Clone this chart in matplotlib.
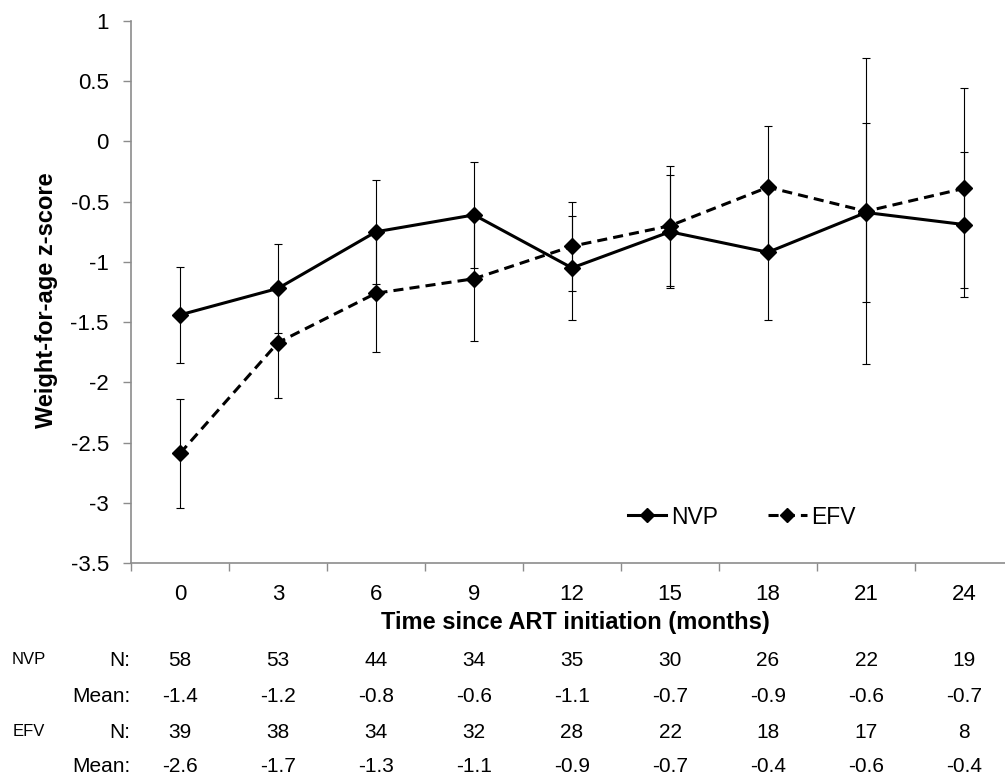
import matplotlib
matplotlib.use("Agg")
import matplotlib.pyplot as plt
import matplotlib.transforms as mtransforms
from matplotlib.lines import Line2D

plt.rcParams['font.family'] = ['Liberation Sans', 'DejaVu Sans']

# data
months = [0, 3, 6, 9, 12, 15, 18, 21, 24]
nvp_mean = [-1.44, -1.22, -0.75, -0.61, -1.05, -0.75, -0.92, -0.59, -0.69]
nvp_err = [0.40, 0.37, 0.43, 0.44, 0.43, 0.47, 0.56, 0.74, 0.60]
efv_mean = [-2.59, -1.67, -1.26, -1.14, -0.87, -0.70, -0.38, -0.58, -0.39]
efv_err = [0.45, 0.46, 0.49, 0.52, 0.37, 0.50, 0.51, 1.27, 0.83]

nvp_n = ["58", "53", "44", "34", "35", "30", "26", "22", "19"]
nvp_mean_lbl = ["-1.4", "-1.2", "-0.8", "-0.6", "-1.1", "-0.7", "-0.9", "-0.6", "-0.7"]
efv_n = ["39", "38", "34", "32", "28", "22", "18", "17", "8"]
efv_mean_lbl = ["-2.6", "-1.7", "-1.3", "-1.1", "-0.9", "-0.7", "-0.4", "-0.6", "-0.4"]

W, H = 1005, 782
fig = plt.figure(figsize=(W / 100, H / 100), dpi=100)
ax = fig.add_axes([131 / W, 1 - 563 / H, (W - 131) / W, (563 - 21) / H])

grey = "#8c8c8c"

# error bars first, then lines on top
ax.errorbar(months, nvp_mean, yerr=nvp_err, fmt="none", ecolor="black",
            elinewidth=0.8, capsize=2.6, capthick=0.8, zorder=2)
ax.errorbar(months, efv_mean, yerr=efv_err, fmt="none", ecolor="black",
            elinewidth=0.8, capsize=2.6, capthick=0.8, zorder=2)
ax.plot(months, nvp_mean, color="black", lw=2.2, marker="D", ms=8, zorder=3)
ax.plot(months, efv_mean, color="black", lw=2.2, marker="D", ms=8,
        dashes=(3.3, 2.0), zorder=3)

ax.set_xlim(-1.5, -1.5 + (W - 131) / 98 * 3)
ax.set_ylim(-3.5, 1)
ax.set_yticks([1, 0.5, 0, -0.5, -1, -1.5, -2, -2.5, -3, -3.5])
ax.set_yticklabels(["1", "0.5", "0", "-0.5", "-1", "-1.5", "-2", "-2.5", "-3", "-3.5"])
ax.set_xticks(months)
ax.set_xticklabels([str(m) for m in months])
ax.set_xticks([-1.5 + 3 * i for i in range(9)], minor=True)
ax.tick_params(axis="x", which="major", length=0, labelsize=16, pad=15)
ax.tick_params(axis="x", which="minor", length=6, width=1, color=grey, direction="out")
ax.tick_params(axis="y", length=6, width=1, color=grey, labelsize=16, pad=10)

for s in ["top", "right"]:
    ax.spines[s].set_visible(False)
for s in ["left", "bottom"]:
    ax.spines[s].set_color(grey)
    ax.spines[s].set_linewidth(1.2)

fig.text(575 / W, 1 - 622 / H, "Time since ART initiation (months)", fontsize=17,
         fontweight="bold", ha="center", va="center")
fig.text(46 / W, 1 - 300 / H, "Weight-for-age z-score", rotation=90,
         fontsize=17, fontweight="bold", ha="center", va="center")

handles = [
    Line2D([0], [0], color="black", lw=2.2, marker="D", ms=7),
    Line2D([0], [0], color="black", lw=2.2, marker="D", ms=7, dashes=(3.3, 2.0)),
]
ax.legend(handles, ["NVP", "EFV"], ncol=2, frameon=False, fontsize=16.5,
          loc="center", bbox_to_anchor=((742 - 131) / (W - 131), (563 - 517) / (563 - 21)),
          handlelength=1.66, handletextpad=0.2, columnspacing=2.2)

# table under the chart
trans = mtransforms.blended_transform_factory(ax.transData, fig.transFigure)
rows = [(660, "NVP", "N:", nvp_n), (697, None, "Mean:", nvp_mean_lbl),
        (732, "EFV", "N:", efv_n), (767, None, "Mean:", efv_mean_lbl)]
for ypix, grp, lab, vals in rows:
    yf = 1 - ypix / H
    if grp:
        fig.text(29 / W, yf, grp, fontsize=12, ha="center", va="center")
    fig.text(130 / W, yf, lab, fontsize=15, ha="right", va="center")
    for m, v in zip(months, vals):
        ax.text(m, yf, v, transform=trans, fontsize=15, ha="center", va="center",
                clip_on=False)

fig.savefig("out.png", dpi=100)
